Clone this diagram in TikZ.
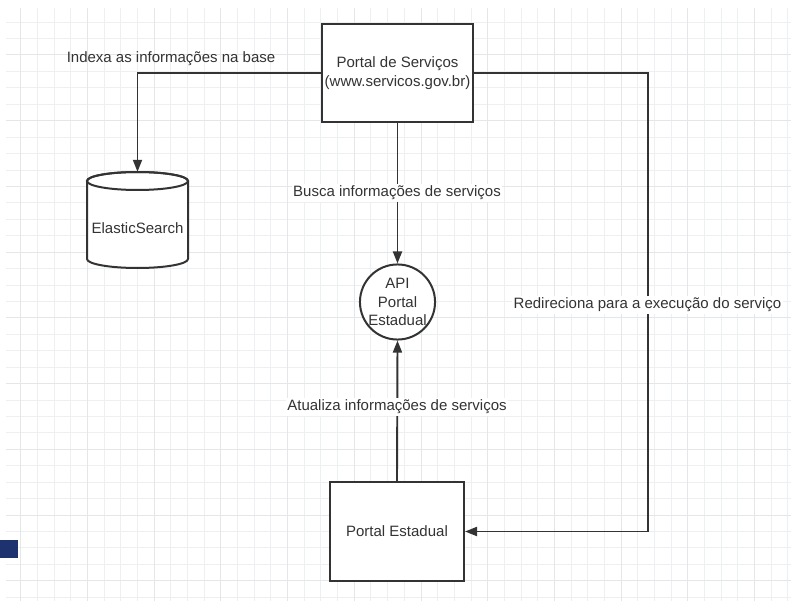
\documentclass[tikz,border=0pt]{standalone}
\usepackage{fontspec}
\setmainfont{Liberation Sans}
\usetikzlibrary{arrows.meta}
\definecolor{ink}{HTML}{333333}
\definecolor{gridminor}{HTML}{EDF0F2}
\definecolor{gridmajor}{HTML}{E4E7EA}
\definecolor{navy}{HTML}{1F3270}
\begin{document}
\begin{tikzpicture}[x=1pt,y=-1pt,
  txt/.style={font=\fontsize{15}{18.5}\selectfont, text=ink, align=center},
  box/.style={draw=ink, line width=2pt, fill=white, inner sep=0pt, txt},
  lbl/.style={txt, fill=white, inner sep=1.5pt},
  conn/.style={draw=ink, line width=1.9pt},
  arr/.style={conn, -{Triangle[length=12pt,width=9pt]}},
  gmin/.style={draw=gridminor, line width=1pt},
  gmaj/.style={draw=gridmajor, line width=1pt},
]
\useasboundingbox (0,0) rectangle (791,601);
\fill[white] (0,0) rectangle (791,601);
% grid
\foreach \i in {0,...,46} \draw[gmin] ({20.7+16.68*\i},8) -- ({20.7+16.68*\i},601);
\foreach \k in {-2,...,33} \draw[gmin] (6,{55+16.43*\k}) -- (791,{55+16.43*\k});
\foreach \i in {0,4,...,44} \draw[gmaj] ({20.7+16.68*\i},8) -- ({20.7+16.68*\i},601);
\foreach \k in {0,4,...,32} \draw[gmaj] (6,{55+16.43*\k}) -- (791,{55+16.43*\k});
% blue marker
\fill[navy] (0,540) rectangle (18,558);
% nodes
\node[box, minimum width=151pt, minimum height=98pt] (ps) at (397.5,73) {Portal de Serviços\\(www.servicos.gov.br)};
\node[box, circle, minimum size=68pt] (api) at (397.5,302) {API\\Portal\\Estadual};
\node[box, minimum width=134pt, minimum height=99pt] (pe) at (397,531.5) {Portal Estadual};
\node[inner sep=0pt, minimum width=101pt, minimum height=96pt] (es) at (137.5,220) {};
\filldraw[draw=ink, fill=white, line width=2pt]
  (87,181) -- (87,259) arc[start angle=180, end angle=360, x radius=50.5pt, y radius=9pt]
  -- (188,181) arc[start angle=0, end angle=180, x radius=50.5pt, y radius=9pt] -- cycle;
\draw[ink, line width=2pt] (137.5,181) ellipse[x radius=50.5pt, y radius=9pt];
\node[txt] (esText) at (137.5,228) {ElasticSearch};
% connectors
\draw[arr] (ps.west) -| (es.north);
\draw[arr] (ps.south) -- (api.north);
\draw[arr] (pe.north) -- (api.south);
\draw[arr] (ps.east) -| (648,300) |- (pe.east);
% labels
\node[txt] (l1) at (171,59) {Indexa as informações na base};
\node[lbl] (l2) at (397,193) {Busca informações de serviços};
\node[lbl] (l3) at (397,407) {Atualiza informações de serviços};
\node[lbl] (l4) at (647.5,305) {Redireciona para a execução do serviço};
\end{tikzpicture}
\end{document}
